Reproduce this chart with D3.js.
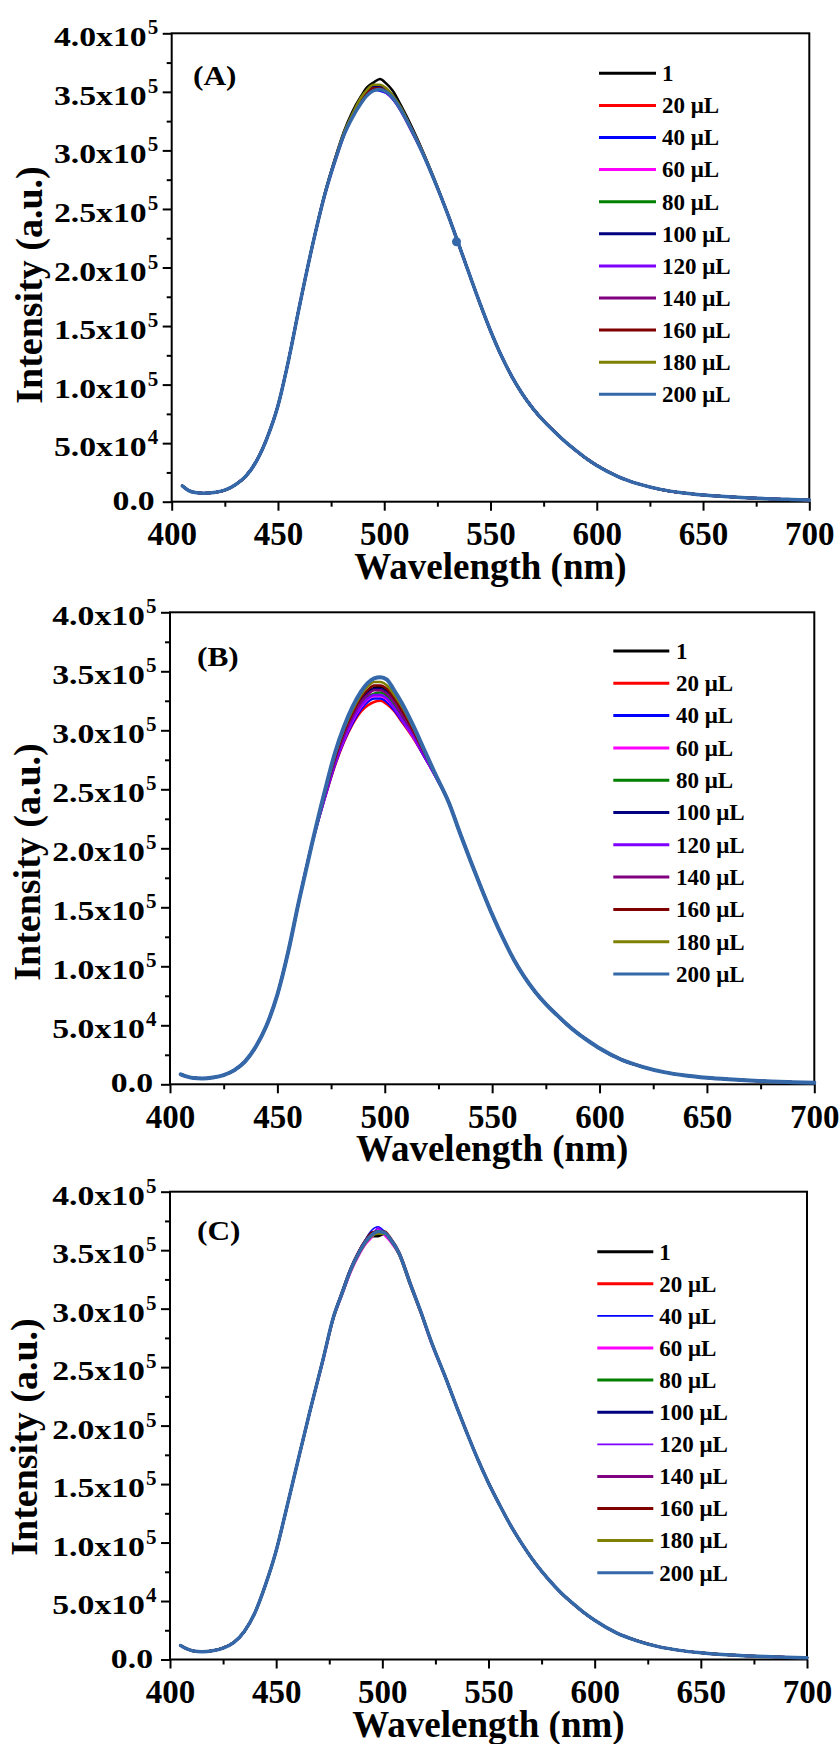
<!DOCTYPE html>
<meta charset="utf-8">
<style>
  body { margin: 0; background: #fff; }
  svg { display: block; }
  text { font-family: "Liberation Serif", "Times New Roman", serif; font-weight: bold; fill: #000; }
  .axis line { stroke: #000; stroke-width: 2; }
  .frame { fill: none; stroke: #000; stroke-width: 2; }
  .series { fill: none; stroke-linejoin: round; stroke-linecap: round; }
</style>
<body>
<svg width="840" height="1744"></svg>
<script src="https://d3js.org/d3.v7.min.js"></script>
<script>
  // legend entries
  var seriesNames = ["1", "20 μL", "40 μL", "60 μL", "80 μL", "100 μL", "120 μL", "140 μL", "160 μL", "180 μL", "200 μL"];
  var seriesColors = ["#000000", "#ff0000", "#0000ff", "#ff00ff", "#008000", "#000080", "#8000ff", "#800080", "#800000", "#808000", "#3468a8"];

  // axis ticks
  var xTicks = [400, 450, 500, 550, 600, 650, 700];
  var xMinor = [425, 475, 525, 575, 625, 675];
  var yTicks = [0, 50000, 100000, 150000, 200000, 250000, 300000, 350000, 400000];
  var yMinor = [25000, 75000, 125000, 175000, 225000, 275000, 325000, 375000];
  var yMant = ["0.0", "5.0", "1.0", "1.5", "2.0", "2.5", "3.0", "3.5", "4.0"];
  var yExp = ["", "4", "5", "5", "5", "5", "5", "5", "5"];

  // wavelengths (nm); the flanks are shared by every curve, the peak part is per curve
  var wlLeft = [405, 408, 411, 415, 420, 425, 430, 435, 440, 445, 450, 455, 460, 466];
  var wlPeak = [472, 477, 481, 485, 489, 492, 495, 498, 501, 504, 508, 513, 518, 523];
  var wlRight = [530, 535, 540, 545, 550, 555, 560, 565, 570, 575, 580, 585, 590, 595, 600, 610, 620, 630, 640, 650, 660, 670, 680, 690, 700];

  // intensities in units of 1e3
  var leftA = [13.5, 9.5, 7.8, 7.2, 7.8, 9.8, 14.5, 22, 35, 55, 82, 121, 166, 217];
  var rightA = [245, 220, 194.5, 169.5, 146, 125, 107, 92, 79.5, 69, 60, 51.5, 44, 37, 31, 21.5, 15, 10.5, 7.6, 5.7, 4.4, 3.4, 2.6, 2, 1.5];
  var peakA = [
    [263, 294, 316, 333, 346, 354, 358, 361, 357, 351, 338, 320, 300, 278],
    [262, 293, 314, 330, 343, 350, 354, 353, 351, 346, 335, 318, 299, 277],
    [262, 292, 313, 329, 341, 348, 352, 351, 349, 344, 334, 317, 298, 277],
    [262, 292, 313, 329, 342, 349, 352, 354, 350, 345, 334, 316, 298, 277],
    [262, 293, 314, 330, 343, 350, 354, 354, 351, 346, 335, 317, 299, 277],
    [263, 293, 314, 331, 344, 351, 355, 355, 352, 347, 336, 318, 299, 278],
    [262, 292, 313, 329, 341, 348, 352, 352, 349, 344, 333, 316, 298, 277],
    [262, 292, 313, 329, 342, 349, 353, 352, 350, 345, 334, 317, 298, 277],
    [262, 293, 314, 330, 343, 350, 353, 353, 351, 346, 335, 317, 299, 277],
    [263, 293, 315, 331, 345, 352, 356, 356, 353, 347, 336, 318, 299, 278],
    [262, 292, 313, 328, 340, 347, 351, 352, 350, 345, 334, 317, 298, 277]
  ];
  var markA = [[534, 222]];

  var leftB = [8.5, 6.5, 5.3, 5, 5.8, 7.8, 12, 19.5, 32, 50, 76, 112, 155, 203];
  var rightB = [238, 213, 189, 166, 144, 124, 106, 91, 78.5, 68, 59, 50.5, 43, 36.5, 30.5, 21, 14.8, 10.3, 7.4, 5.5, 4.2, 3.2, 2.4, 1.8, 1.3];
  var peakB = [
    [245, 277, 298, 313, 326, 332, 336, 337, 334, 328, 316, 300, 282, 264],
    [242, 271, 290, 305, 316, 321, 324, 325, 322, 317, 307, 294, 279, 263],
    [242, 272, 291, 306, 318, 324, 327, 327, 324, 318, 308, 295, 279, 263],
    [243, 273, 292, 308, 320, 326, 329, 329, 326, 320, 309, 295, 280, 263],
    [244, 274, 294, 310, 322, 328, 331, 332, 329, 322, 311, 297, 281, 264],
    [245, 276, 297, 312, 325, 331, 335, 335, 332, 326, 314, 299, 282, 264],
    [243, 273, 293, 309, 321, 327, 330, 330, 327, 320, 309, 296, 280, 263],
    [245, 276, 296, 312, 324, 330, 334, 334, 331, 325, 313, 299, 282, 264],
    [246, 278, 299, 315, 328, 334, 338, 338, 335, 328, 317, 301, 283, 265],
    [247, 280, 301, 317, 330, 337, 341, 341, 338, 331, 320, 303, 284, 265],
    [248, 282, 303, 320, 333, 340, 344, 345, 343, 335, 323, 305, 285, 265]
  ];

  var leftC = [12, 9, 7.3, 6.7, 7.5, 9.8, 14.5, 24, 40, 64, 93, 130, 168, 213];
  var rightC = [240, 216, 193, 171, 151, 133, 116, 101, 87.5, 75.5, 65, 55.5, 47.5, 40, 33.5, 23, 16, 11, 7.8, 5.7, 4.2, 3.2, 2.5, 1.9, 1.5];
  var peakC = [
    [256, 292, 312, 332, 347, 356, 362, 362, 364, 358, 346, 321, 297, 272],
    [256, 293, 313, 333, 349, 358, 364, 365, 364, 359, 347, 322, 298, 272],
    [257, 294, 314, 334, 349, 359, 367, 370, 366, 360, 348, 323, 298, 272],
    [255, 292, 312, 331, 346, 355, 361, 368, 363, 357, 346, 321, 297, 271],
    [256, 293, 313, 333, 348, 357, 363, 366, 365, 359, 347, 322, 298, 272],
    [256, 293, 314, 334, 349, 358, 365, 364, 365, 359, 347, 322, 298, 272],
    [256, 292, 313, 332, 347, 357, 362, 369, 364, 358, 347, 322, 297, 272],
    [256, 293, 313, 333, 349, 358, 364, 365, 365, 359, 347, 322, 298, 272],
    [256, 293, 314, 334, 349, 358, 365, 366, 366, 360, 348, 323, 298, 272],
    [256, 292, 313, 332, 347, 356, 362, 364, 364, 358, 346, 321, 297, 272],
    [256, 293, 313, 333, 348, 357, 363, 366, 365, 359, 347, 322, 298, 272]
  ];

  var svg = d3.select("svg");

  var panels = [
    { tag: "(A)", left: 171.7, right: 809.3, top: 33.3, bottom: 501.7,
      left_: leftA, peak: peakA, right_: rightA, mark: markA,
      widths: [2.5, 2.5, 2.5, 2.5, 2.5, 2.5, 2.5, 2.5, 2.5, 2.5, 3.5],
      legX1: 599, legX2: 656, legTx: 662, legTop: 73.3, legStep: 32.1,
      tagX: 193, tagY: 85, ytX: 42, ytY: 285 },
    { tag: "(B)", left: 170, right: 814.3, top: 612.3, bottom: 1084.3,
      left_: leftB, peak: peakB, right_: rightB, mark: [],
      widths: [2.5, 2.5, 2.5, 2.5, 2.5, 2.5, 2.5, 2.5, 2.5, 2.5, 4],
      legX1: 613.3, legX2: 669.3, legTx: 676, legTop: 651, legStep: 32.3,
      tagX: 197, tagY: 666, ytX: 40, ytY: 862 },
    { tag: "(C)", left: 170, right: 807, top: 1191.7, bottom: 1659.5,
      left_: leftC, peak: peakC, right_: rightC, mark: [],
      widths: [2.5, 2.5, 1.5, 2.5, 2.5, 2.5, 1.5, 2.5, 2.5, 2.5, 3.5],
      legX1: 597.3, legX2: 653.3, legTx: 659.3, legTop: 1251.7, legStep: 32.1,
      tagX: 197, tagY: 1240, ytX: 37, ytY: 1437 }
  ];

  panels.forEach(drawPanel);

  function drawPanel(p) {
    var g = svg.append("g");
    var x = d3.scaleLinear().domain([400, 700]).range([p.left, p.right]);
    var y = d3.scaleLinear().domain([0, 400000]).range([p.bottom, p.top]);

    // x axis: minor then major ticks
    g.append("g").attr("class", "axis").attr("transform", "translate(0," + p.bottom + ")")
      .call(d3.axisBottom(x).tickValues(xMinor).tickSize(5).tickFormat(""))
      .call(function (a) { a.select(".domain").remove(); });
    var xa = g.append("g").attr("class", "axis").attr("transform", "translate(0," + p.bottom + ")")
      .call(d3.axisBottom(x).tickValues(xTicks).tickSize(9));
    xa.select(".domain").remove();
    xa.selectAll("text").attr("y", 43.5).attr("dy", null).style("font-size", "33px");

    // y axis
    g.append("g").attr("class", "axis").attr("transform", "translate(" + p.left + ",0)")
      .call(d3.axisLeft(y).tickValues(yMinor).tickSize(5).tickFormat(""))
      .call(function (a) { a.select(".domain").remove(); });
    g.append("g").attr("class", "axis").attr("transform", "translate(" + p.left + ",0)")
      .call(d3.axisLeft(y).tickValues(yTicks).tickSize(9).tickFormat(""))
      .call(function (a) { a.select(".domain").remove(); });

    var yl = g.selectAll(".ylab").data(yTicks).enter().append("g")
      .attr("transform", function (d) { return "translate(" + p.left + "," + y(d) + ")"; });
    yl.append("text")
      .attr("text-anchor", "end")
      .attr("transform", function (d, i) { return yExp[i] ? "translate(-25,13) scale(1.25,1)" : "translate(-17,8) scale(1.25,1)"; })
      .style("font-size", "27px")
      .text(function (d, i) { return yMant[i] + (yExp[i] ? "x10" : ""); });
    yl.append("text")
      .attr("x", -24).attr("y", 1)
      .style("font-size", "21px")
      .text(function (d, i) { return yExp[i]; });

    // frame
    g.append("rect").attr("class", "frame")
      .attr("x", p.left).attr("y", p.top)
      .attr("width", p.right - p.left).attr("height", p.bottom - p.top);

    // curves, 1 first and 200 uL on top
    var line = d3.line()
      .x(function (d) { return x(d[0]); })
      .y(function (d) { return y(d[1] * 1000); })
      .curve(d3.curveMonotoneX);
    seriesNames.forEach(function (name, i) {
      var pts = wlLeft.map(function (w, k) { return [w, p.left_[k]]; })
        .concat(wlPeak.map(function (w, k) { return [w, p.peak[i][k]]; }))
        .concat(wlRight.map(function (w, k) { return [w, p.right_[k]]; }));
      g.append("path").attr("class", "series")
        .attr("d", line(pts))
        .attr("stroke", seriesColors[i])
        .attr("stroke-width", p.widths[i]);
    });
    g.selectAll(".mark").data(p.mark).enter().append("circle")
      .attr("cx", function (d) { return x(d[0]); })
      .attr("cy", function (d) { return y(d[1] * 1000); })
      .attr("r", 4.5)
      .attr("fill", seriesColors[10]);

    // legend
    seriesNames.forEach(function (name, i) {
      var ry = p.legTop + i * p.legStep;
      g.append("line")
        .attr("x1", p.legX1).attr("x2", p.legX2).attr("y1", ry).attr("y2", ry)
        .attr("stroke", seriesColors[i]).attr("stroke-width", p.widths[i] < 2 ? 1.8 : 3);
      g.append("text")
        .attr("x", p.legTx).attr("y", ry + 7.8)
        .style("font-size", "23px")
        .text(name);
    });

    // panel tag
    g.append("text").attr("x", p.tagX).attr("y", p.tagY)
      .attr("transform", "translate(" + p.tagX + ",0) scale(1.12,1) translate(" + (-p.tagX) + ",0)")
      .style("font-size", "28px").text(p.tag);

    // axis titles
    g.append("text")
      .attr("x", (p.left + p.right) / 2).attr("y", p.bottom + 77)
      .attr("text-anchor", "middle")
      .style("font-size", "37px")
      .text("Wavelength (nm)");
    g.append("text")
      .attr("transform", "translate(" + p.ytX + "," + p.ytY + ") rotate(-90)")
      .attr("text-anchor", "middle")
      .style("font-size", "38px")
      .text("Intensity (a.u.)");
  }
</script>
</body>
